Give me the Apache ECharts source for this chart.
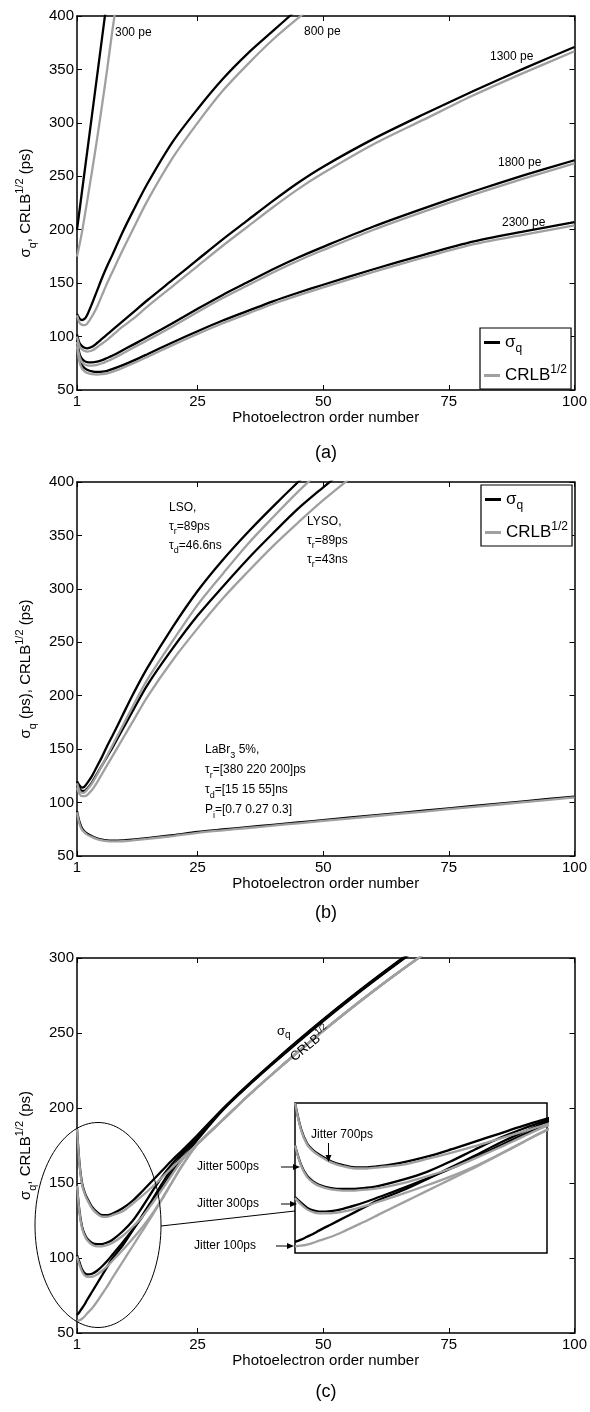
<!DOCTYPE html>
<html>
<head>
<meta charset="utf-8">
<script src="https://cdn.jsdelivr.net/npm/echarts@6.0.0/dist/echarts.min.js"></script>
<style>
html,body{margin:0;padding:0;background:#fff}
#chart{width:590px;height:1412px}
</style>
</head>
<body>
<div id="chart"></div>
<script>
var FONT = 'Liberation Sans, Arial, Helvetica, sans-serif';
var BLACK = '#000';
var GREY = '#a0a0a0';

var xTicks = [1, 25, 50, 75, 100];

// ---- panel (a): photoelectron counts
var nA = [1, 1.5, 2, 2.5, 3, 4, 5, 6, 7, 8, 10, 12, 15, 20, 25, 30, 35, 40, 45, 50, 60, 70, 80, 90, 100];
var pe300Sigma = [200, 218, 236, 254, 272, 308, 344, 380, 416, null, null, null, null, null, null, null, null, null, null, null, null, null, null, null, null];
var pe300Crlb = [175, 186, 198, 212, 226, 255, 285, 317, 350, 385, 450, null, null, null, null, null, null, null, null, null, null, null, null, null, null];
var pe800Sigma = [121, 117, 115.5, 116.5, 120, 131, 143, 155, 166, 176, 197, 216, 243, 282, 313, 341, 365, 386, 407, null, null, null, null, null, null];
var pe800Crlb = [120, 113, 111, 110.8, 112, 119, 128, 139, 150, 160, 180, 199, 227, 267, 300, 330, 355, 378, 398, 417, null, null, null, null, null];
var pe1300Sigma = [102, 94, 91, 89.5, 89, 90.5, 94, 98, 102, 106, 114, 122, 134, 153, 172, 191, 209, 227, 244, 259, 285, 308, 330, 351, 371];
var pe1300Crlb = [100, 91, 88, 86.5, 86, 87, 90, 93.5, 97, 101, 109, 116, 128, 147, 166, 185, 203, 221, 238, 253, 280, 303, 326, 347, 367];
var pe1800Sigma = [97, 84, 79, 77, 76, 75.8, 76.5, 78, 80, 82, 87, 92, 99.5, 112.5, 126, 139, 151, 163, 174, 184, 203, 220, 236, 251, 265];
var pe1800Crlb = [95, 81, 76, 74, 73, 72.8, 73.5, 75, 77, 79, 84, 89, 96.5, 109.5, 123, 136, 148, 160, 171, 181, 200, 217, 233, 248, 262];
var pe2300Sigma = [93, 79, 73, 70.5, 69, 67.5, 67, 67.2, 68, 69.5, 73, 77, 83.5, 94.5, 105, 115, 124, 133, 141, 148.5, 163, 176.5, 189, 198.5, 207];
var pe2300Crlb = [91, 76, 70, 67.5, 66, 64.8, 64.5, 64.8, 65.5, 67, 70.5, 74.5, 81, 92, 102.5, 112.5, 121.5, 130.5, 138.5, 146, 160.5, 174, 186.5, 195.5, 204];

// ---- panel (b): crystals
var nB = [1, 1.5, 2, 2.5, 3, 4, 5, 6, 7, 8, 10, 12, 15, 20, 25, 30, 35, 40, 45, 50, 60, 70, 80, 90, 100];
var lsoSigma = [120, 116, 114, 115, 118, 125, 134, 143, 153, 162, 181, 200, 226, 264, 298, 327, 353, 377, 400, 422, null, null, null, null, null];
var lsoCrlb = [118, 111, 109, 109.5, 112, 118, 126, 135, 144, 153, 171, 189, 215, 251, 285, 314, 342, 367, 391, 413, null, null, null, null, null];
var lysoSigma = [117, 113, 111, 111, 113, 119, 127, 135, 143, 151, 168, 185, 210, 244, 275, 302, 328, 352, 375, 395, 434, null, null, null, null];
var lysoCrlb = [114, 108, 106, 106, 107, 112, 119, 127, 135, 143, 159, 175, 199, 233, 263, 291, 316, 340, 362, 383, 421, null, null, null, null];
var labrSigma = [92, 82, 76, 73, 71, 68.5, 66.5, 65.3, 64.6, 64.3, 64.5, 65.3, 66.8, 69.5, 72.5, 74.8, 77, 79.2, 81.4, 83.6, 88, 92.4, 96.8, 101.2, 105.6];
var labrCrlb = [91, 80, 74.5, 72, 70, 67.7, 65.8, 64.6, 63.9, 63.6, 63.8, 64.6, 66, 68.7, 71.7, 74, 76.2, 78.4, 80.6, 82.8, 87.2, 91.6, 96, 100.4, 104.8];

// ---- panel (c): jitter
var nC = [1, 1.5, 2, 2.5, 3, 4, 5, 6, 7, 8, 10, 12, 14, 16, 18, 20, 22, 25, 30, 35, 40, 45, 50, 55, 60, 65, 70];
var j700Sigma = [186, 163, 150, 144, 140, 134, 130.5, 128.5, 128.5, 129.5, 133, 138, 144.5, 151.5, 158.5, 165.5, 172, 182, 199.5, 215.5, 230.5, 245, 259, 272.5, 285.5, 298, 310];
var j700Crlb = [186, 162, 149, 143, 139, 133, 129.5, 127.5, 127.5, 128.5, 131, 136, 141.5, 147.5, 154, 160.5, 167, 176, 192, 208, 223, 237.5, 251.5, 265, 278, 290.5, 302.5];
var j500Sigma = [148, 131, 121, 116, 113, 110, 109.2, 109.3, 110.3, 112, 117.5, 124.5, 134, 144.5, 154.5, 163, 170.5, 181, 199, 215, 230, 244.5, 258.5, 272, 285, 297.5, 309.5];
var j500Crlb = [148, 130, 120, 115, 112, 108.8, 107.8, 107.8, 108.6, 110, 114.5, 120.5, 127.5, 136.5, 146, 156, 165.5, 176, 192, 208, 223, 237.5, 251.5, 265, 278, 290.5, 302.5];
var j300Sigma = [102, 97, 92.5, 90, 89, 89.5, 91.5, 94.5, 98, 102, 110, 118.5, 127.5, 137.5, 147.5, 157.5, 166.5, 179, 198.5, 214.5, 229.5, 244, 258, 271.5, 284.5, 297, 309];
var j300Crlb = [101, 95.5, 91, 88.5, 87.5, 87.5, 89, 91.5, 94.5, 98, 105, 112.5, 120.5, 129.5, 140, 151, 162, 176, 192, 208, 223, 237.5, 251.5, 265, 278, 290.5, 302.5];
var j100Sigma = [62, 64, 66.5, 69, 72, 77.5, 83, 88.5, 94, 99.5, 108, 118, 128.5, 139, 150, 160, 169, 180.5, 199, 215, 230, 244.5, 258.5, 272, 285, 297.5, 309.5];
var j100Crlb = [58, 58.5, 59.5, 61, 63, 66.5, 71, 76, 81, 86.5, 97, 107.5, 118, 128.5, 139.5, 151, 162, 176, 192, 208, 223, 237.5, 251.5, 265, 278, 290.5, 302.5];

function pts(xs, ys) {
    var out = [];
    for (var i = 0; i < xs.length; i++) {
        if (ys[i] != null) out.push([xs[i], ys[i]]);
    }
    return out;
}

function line(name, xs, ys, color, axis) {
    return {
        type: 'line',
        name: name,
        xAxisIndex: axis,
        yAxisIndex: axis,
        data: pts(xs, ys),
        symbol: 'none',
        smooth: 0.3,
        clip: true,
        silent: true,
        lineStyle: {color: color, width: 2.3},
        itemStyle: {color: color}
    };
}

var yNameRich = {
    n: {fontSize: 15, lineHeight: 24, fontFamily: FONT, color: '#000'},
    s: {fontSize: 11, lineHeight: 12, verticalAlign: 'bottom', fontFamily: FONT, color: '#000'},
    p: {fontSize: 11, lineHeight: 12, verticalAlign: 'top', fontFamily: FONT, color: '#000'}
};

var xAxes = [], yAxes = [];
function panelAxes(grid, yMin, yMax, yName) {
    var axLine = {show: true, onZero: false, lineStyle: {color: '#000', width: 1.5}};
    var tick = {inside: true, length: 5, lineStyle: {color: '#000', width: 1}};
    xAxes.push({
        type: 'value', gridIndex: grid, min: 1, max: 100, position: 'bottom',
        name: 'Photoelectron order number', nameLocation: 'middle', nameGap: 20,
        nameTextStyle: {fontSize: 15, fontFamily: FONT, color: '#000'},
        axisLine: axLine,
        axisTick: Object.assign({customValues: xTicks}, tick),
        axisLabel: {customValues: xTicks, fontSize: 15, fontFamily: FONT, color: '#000', margin: 4},
        splitLine: {show: false}
    });
    xAxes.push({
        type: 'value', gridIndex: grid, min: 1, max: 100, position: 'top',
        axisLine: axLine,
        axisTick: Object.assign({customValues: xTicks}, tick),
        axisLabel: {show: false},
        splitLine: {show: false}
    });
    yAxes.push({
        type: 'value', gridIndex: grid, min: yMin, max: yMax, interval: 50, position: 'left',
        name: yName, nameLocation: 'middle', nameRotate: 90, nameGap: 35,
        nameTextStyle: {rich: yNameRich},
        axisLine: axLine, axisTick: tick,
        axisLabel: {fontSize: 15, fontFamily: FONT, color: '#000', margin: 3},
        splitLine: {show: false}
    });
    yAxes.push({
        type: 'value', gridIndex: grid, min: yMin, max: yMax, interval: 50, position: 'right',
        axisLine: axLine, axisTick: tick,
        axisLabel: {show: false},
        splitLine: {show: false}
    });
}

panelAxes(0, 50, 400, '{n|σ}{s|q}{n|, CRLB}{p|1/2}{n| (ps)}');
panelAxes(1, 50, 400, '{n|σ}{s|q}{n| (ps), CRLB}{p|1/2}{n| (ps)}');
panelAxes(2, 50, 300, '{n|σ}{s|q}{n|, CRLB}{p|1/2}{n| (ps)}');
// inset: same jitter curves, zoomed on the start
xAxes.push({type: 'value', gridIndex: 3, min: 1, max: 22, show: false});
yAxes.push({type: 'value', gridIndex: 3, min: 52, max: 186, show: false});

var series = [
    line('σq', nA, pe300Sigma, BLACK, 0),
    line('σq', nA, pe800Sigma, BLACK, 0),
    line('σq', nA, pe1300Sigma, BLACK, 0),
    line('σq', nA, pe1800Sigma, BLACK, 0),
    line('σq', nA, pe2300Sigma, BLACK, 0),
    line('CRLB', nA, pe300Crlb, GREY, 0),
    line('CRLB', nA, pe800Crlb, GREY, 0),
    line('CRLB', nA, pe1300Crlb, GREY, 0),
    line('CRLB', nA, pe1800Crlb, GREY, 0),
    line('CRLB', nA, pe2300Crlb, GREY, 0),

    line('σq', nB, lsoSigma, BLACK, 2),
    line('σq', nB, lysoSigma, BLACK, 2),
    line('σq', nB, labrSigma, BLACK, 2),
    line('CRLB', nB, lsoCrlb, GREY, 2),
    line('CRLB', nB, lysoCrlb, GREY, 2),
    line('CRLB', nB, labrCrlb, GREY, 2)
];
[4, 6].forEach(function (ax) {
    series.push(line('jitter σq', nC, j700Sigma, BLACK, ax));
    series.push(line('jitter σq', nC, j500Sigma, BLACK, ax));
    series.push(line('jitter σq', nC, j300Sigma, BLACK, ax));
    series.push(line('jitter σq', nC, j100Sigma, BLACK, ax));
    series.push(line('jitter CRLB', nC, j700Crlb, GREY, ax));
    series.push(line('jitter CRLB', nC, j500Crlb, GREY, ax));
    series.push(line('jitter CRLB', nC, j300Crlb, GREY, ax));
    series.push(line('jitter CRLB', nC, j100Crlb, GREY, ax));
});

function legendAt(left, top) {
    return {
        data: ['σq', 'CRLB'],
        orient: 'vertical', left: left, top: top,
        selectedMode: false,
        backgroundColor: '#fff', borderColor: '#000', borderWidth: 1.2,
        padding: [6, 4, 5, 4], itemGap: 9,
        icon: 'rect', itemWidth: 16, itemHeight: 3,
        formatter: function (name) {
            return name === 'σq' ? '{m|σ}{s|q}' : '{m|CRLB}{p|1/2}';
        },
        textStyle: {
            rich: {
                m: {fontSize: 17, lineHeight: 24, fontFamily: FONT, color: '#000'},
                s: {fontSize: 12, lineHeight: 12, verticalAlign: 'bottom', fontFamily: FONT, color: '#000'},
                p: {fontSize: 12, lineHeight: 12, verticalAlign: 'top', fontFamily: FONT, color: '#000'}
            }
        }
    };
}

var annRich = {
    n: {fontSize: 12, lineHeight: 19, fontFamily: FONT, color: '#000'},
    r: {fontSize: 9, lineHeight: 9, verticalAlign: 'bottom', fontFamily: FONT, color: '#000'}
};

function txt(x, y, text, extra) {
    var el = {type: 'text', x: x, y: y, silent: true, z: 10,
        style: {text: text, fill: '#000', fontSize: 12, fontFamily: FONT, align: 'left', verticalAlign: 'middle'}};
    if (extra) Object.assign(el.style, extra);
    return el;
}

function arrow(x1, y1, x2, y2) {
    var a = Math.atan2(y2 - y1, x2 - x1), L = 7, W = 3;
    var bx = x2 - L * Math.cos(a), by = y2 - L * Math.sin(a);
    var px = -Math.sin(a) * W, py = Math.cos(a) * W;
    return [
        {type: 'line', silent: true, z: 10, shape: {x1: x1, y1: y1, x2: bx, y2: by}, style: {stroke: '#000', lineWidth: 1}},
        {type: 'polygon', silent: true, z: 10, shape: {points: [[x2, y2], [bx + px, by + py], [bx - px, by - py]]}, style: {fill: '#000'}}
    ];
}

var graphics = [
    txt(115, 33, '300 pe'),
    txt(304, 32, '800 pe'),
    txt(490, 57, '1300 pe'),
    txt(498, 163, '1800 pe'),
    txt(502, 223, '2300 pe'),

    txt(169, 498, '{n|LSO,}\n{n|τ}{r|r}{n|=89ps}\n{n|τ}{r|d}{n|=46.6ns}', {rich: annRich, verticalAlign: 'top'}),
    txt(307, 512, '{n|LYSO,}\n{n|τ}{r|r}{n|=89ps}\n{n|τ}{r|r}{n|=43ns}', {rich: annRich, verticalAlign: 'top'}),
    txt(205, 740, '{n|LaBr}{r|3}{n| 5%,}\n{n|τ}{r|r}{n|=[380 220 200]ps}\n{n|τ}{r|d}{n|=[15 15 55]ns}\n{n|P}{r|i}{n|=[0.7 0.27 0.3]}',
        {rich: {n: {fontSize: 12, lineHeight: 20, fontFamily: FONT, color: '#000'}, r: annRich.r}, verticalAlign: 'top'}),

    txt(277, 1031, '{n|σ}{r|q}', {rich: {n: {fontSize: 13, lineHeight: 18, fontFamily: FONT, color: '#000'}, r: {fontSize: 10, lineHeight: 10, verticalAlign: 'bottom', fontFamily: FONT, color: '#000'}}}),
    {type: 'text', x: 298, y: 1066, rotation: 40 * Math.PI / 180, silent: true, z: 10,
        style: {text: '{n|CRLB}{p|1/2}', align: 'left', verticalAlign: 'bottom',
            rich: {n: {fontSize: 13, lineHeight: 18, fontFamily: FONT, color: GREY}, p: {fontSize: 9, lineHeight: 9, verticalAlign: 'top', fontFamily: FONT, color: GREY}}}},

    {type: 'ellipse', silent: true, z: 10, shape: {cx: 98, cy: 1225, rx: 63, ry: 102.5}, style: {fill: null, stroke: '#000', lineWidth: 1}},
    {type: 'line', silent: true, z: 10, shape: {x1: 161, y1: 1226, x2: 295, y2: 1211}, style: {stroke: '#000', lineWidth: 1}},

    txt(311, 1135, 'Jitter 700ps'),
    txt(197, 1167, 'Jitter 500ps'),
    txt(197, 1204, 'Jitter 300ps'),
    txt(194, 1246, 'Jitter 100ps'),

    txt(326, 453, '(a)', {fontSize: 18, align: 'center'}),
    txt(326, 913, '(b)', {fontSize: 18, align: 'center'}),
    txt(326, 1392, '(c)', {fontSize: 18, align: 'center'})
].concat(arrow(328.5, 1143, 328.5, 1162), arrow(281, 1167, 300, 1167), arrow(281, 1204, 297, 1204), arrow(276, 1246, 294, 1246));

var option = {
    animation: false,
    backgroundColor: '#fff',
    grid: [
        {left: 77, top: 16, width: 498, height: 374},
        {left: 77, top: 482, width: 498, height: 374},
        {left: 77, top: 958, width: 498, height: 375},
        {left: 295, top: 1103, width: 252, height: 150, show: true, backgroundColor: '#fff', borderColor: '#000', borderWidth: 1.5}
    ],
    xAxis: xAxes,
    yAxis: yAxes,
    legend: [legendAt(480, 328), legendAt(481, 485)],
    series: series,
    graphic: graphics
};

var chart = echarts.init(document.getElementById('chart'), null, {renderer: 'canvas'});
chart.setOption(option);
</script>
</body>
</html>
